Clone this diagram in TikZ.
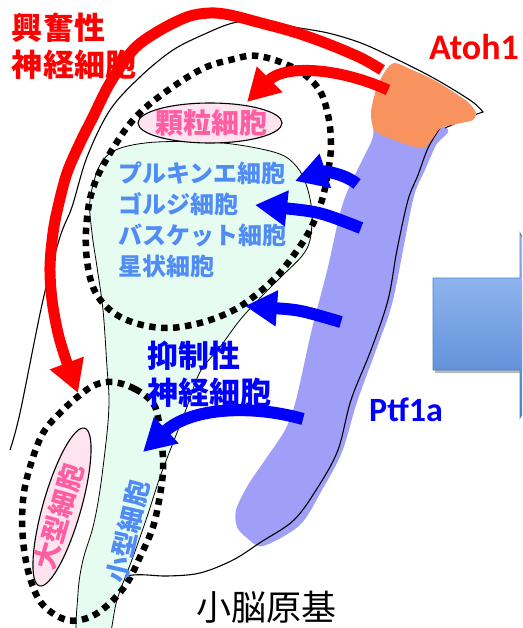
\documentclass[tikz,border=0pt]{standalone}
\usepackage{fontspec}
\newfontfamily\jp{Noto Sans CJK JP}
\newfontfamily\lat{Carlito}
\usetikzlibrary{arrows.meta,shapes.geometric}

\definecolor{exred}{HTML}{FF0000}
\definecolor{inblue}{HTML}{0000FF}
\definecolor{cellblue}{RGB}{80,140,245}
\definecolor{cellpink}{HTML}{FF5FA2}
\definecolor{pinkfill}{HTML}{FFE3EE}
\definecolor{mint}{HTML}{E6FCF1}
\definecolor{ptfband}{HTML}{A09FF8}
\definecolor{atohorange}{HTML}{F8925F}
\definecolor{blockhi}{HTML}{A2C5F8}
\definecolor{blocklo}{HTML}{4E80CF}
\definecolor{blockedge}{HTML}{4F7FC8}

\tikzset{
  outline/.style={draw=black, line width=1.1pt},
  zone/.style={draw=black, line width=6.5pt, dash pattern=on 6.5pt off 5.5pt},
  redarrow/.style={draw=exred, line width=11pt, -{Triangle[width=34pt,length=32pt]}},
  bluearrow/.style={draw=inblue, line width=12pt, -{Triangle[width=34pt,length=32pt]}},
  celllist/.style={font=\jp\bfseries\fontsize{24}{31}\selectfont, text=cellblue, align=left, inner sep=0pt},
  heading/.style={font=\jp\bfseries\fontsize{31}{37}\selectfont, align=left, inner sep=0pt},
  pinkcell/.style={ellipse, draw=black, line width=1.1pt, fill=pinkfill, inner sep=0pt},
  genename/.style={font=\lat\bfseries, inner sep=0pt},
}

\begin{document}
\begin{tikzpicture}[x=1pt,y=-1pt]
\clip (0,0) rectangle (522,628);

% Ptf1a expression band
\fill[ptfband] plot[smooth cycle, tension=0.5] coordinates {
  (378,118) (372,140) (344,200) (328,267) (311,333) (296,400) (285,430)
  (265,460) (248,485) (236,510) (237,527) (247,538) (263,546) (300,525)
  (322,490) (342,452) (357,402) (376,350) (393,300) (413,200) (425,170)
  (436,145) (446,128)};

% outline of the primordium
\draw[outline] plot[smooth, tension=0.55] coordinates {
  (10,450) (20,413) (43,300) (60,237) (72,207) (87,157) (110,110) (140,77)
  (173,50) (207,33) (233,23) (261,20) (294,27) (328,33) (361,43) (394,58)
  (428,75) (454,90) (474,103) (483,112)} -- (474,115) -- (445,128);
\draw[outline] plot[smooth, tension=0.55] coordinates {
  (440,128) (428,148) (418,175) (408,200) (397,250) (388,300) (371,350)
  (351,400) (338,450) (318,487) (294,520) (261,542) (233,560) (200,573)
  (167,576) (133,575) (87,583)};

% Atoh1 domain
\fill[atohorange] plot[smooth cycle, tension=0.5] coordinates {
  (394,63) (410,69) (434,80) (461,97) (470,104) (476,113) (473,120)
  (461,123) (441,128) (433,138) (424,148) (408,145) (394,140) (375,131)
  (371,113) (376,90) (384,73)};

% inhibitory neuron zone
\draw[line width=0.8pt, fill=mint] plot[smooth cycle, tension=0.55] coordinates {
  (100,165) (118,149) (157,142) (223,143) (277,153) (297,167) (307,187)
  (312,213) (310,240) (302,256) (281,277) (261,297) (240,320) (220,347)
  (200,372) (187,407) (173,443) (160,477) (147,517) (133,557) (117,600)
  (106,645) (78,645) (78,593) (83,560) (93,527) (100,490) (107,433)
  (109,400) (107,367) (103,310) (97,267) (92,233) (90,200)};

% granule cells and large cells
\node[pinkcell, minimum width=144pt, minimum height=40pt] (gran) at (210,123) {};
\node[font=\jp\bfseries\fontsize{28}{30}\selectfont, text=cellpink, inner sep=0pt]
  (granlabel) at (211,123) {顆粒細胞};
\node[pinkcell, minimum width=164pt, minimum height=38pt, rotate=74] (large) at (62,507) {};
\node[font=\jp\bfseries\fontsize{27}{30}\selectfont, text=cellpink, inner sep=0pt, rotate=74]
  (largelabel) at (59,517) {大型細胞};

% dotted zones
\draw[zone] plot[smooth cycle, tension=0.6] coordinates {
  (258,56) (294,68) (318,88) (328,115) (331,145) (328,172) (322,200)
  (311,228) (296,252) (276,277) (252,298) (230,312) (200,323) (167,328)
  (135,323) (110,310) (93,287) (86,250) (88,210) (96,180) (112,150)
  (133,120) (160,96) (200,70) (230,60)};
\draw[zone] plot[smooth cycle, tension=0.6] coordinates {
  (113,382) (135,389) (153,403) (159,422) (162,445) (163,470) (160,495)
  (153,527) (140,557) (127,583) (110,603) (90,617) (67,620) (43,605)
  (30,578) (23,540) (23,500) (30,467) (43,433) (63,410) (80,395) (95,385)};

% block arrow at the right edge
\fill[gray!55] (435,281) -- (523,281) -- (523,236) -- (573,328) -- (523,421)
  -- (523,373) -- (435,373) -- cycle;
\shade[top color=blockhi, bottom color=blocklo, draw=blockedge, line width=0.8pt]
  (433,278) -- (520,278) -- (520,233) -- (570,325) -- (520,418) -- (520,370)
  -- (433,370) -- cycle;

% labels
\node[heading, text=exred] (exc) at (74,46) {興奮性\\神経細胞};
\node[genename, text=exred, font=\lat\bfseries\fontsize{36}{40}\selectfont] (atoh) at (474,47) {Atoh1};
\node[genename, text=inblue, font=\lat\bfseries\fontsize{34}{38}\selectfont] (ptf) at (406,410) {Ptf1a};
\node[celllist, anchor=west] (cells) at (118,220) {プルキンエ細胞\\ゴルジ細胞\\バスケット細胞\\星状細胞};
\node[heading, text=inblue] (inh) at (209,374) {抑制性\\神経細胞};
\node[font=\jp\bfseries\fontsize{26}{28}\selectfont, text=cellblue, inner sep=0pt, rotate=77]
  (small) at (128,532) {小型細胞};
\node[font=\jp\fontsize{35}{38}\selectfont, inner sep=0pt] (anlage) at (266,607) {小脳原基};

% excitatory lineage arrows
\coordinate (rA) at (382,70);
\coordinate (rAtip) at (78,393);
\draw[redarrow] plot[smooth, tension=0.55] coordinates {
  (rA) (361,58) (328,44) (294,32) (261,23) (230,15) (210,13) (187,17)
  (157,32) (133,50) (110,83) (93,117) (80,143) (67,173) (58,207) (53,233)
  (50,267) (52,300) (58,333) (66,360) (rAtip)};
\coordinate (rB) at (388,90);
\coordinate (rBtip) at (247,102);
\draw[redarrow] (rB) .. controls (340,68) and (285,64) .. (rBtip);

% inhibitory lineage arrows
\coordinate (bP) at (357,184);
\coordinate (bPtip) at (295,181);
\draw[bluearrow] (bP) .. controls (345,174) and (325,171) .. (bPtip);
\coordinate (bG) at (361,228);
\coordinate (bGtip) at (255,205);
\draw[bluearrow] (bG) .. controls (320,212) .. (bGtip);
\coordinate (bS) at (341,322);
\coordinate (bStip) at (245,306);
\draw[bluearrow] (bS) .. controls (300,310) .. (bStip);
\coordinate (bI) at (303,419);
\coordinate (bItip) at (143,452);
\draw[bluearrow] (bI) .. controls (250,404) and (190,408) .. (bItip);
\end{tikzpicture}
\end{document}
